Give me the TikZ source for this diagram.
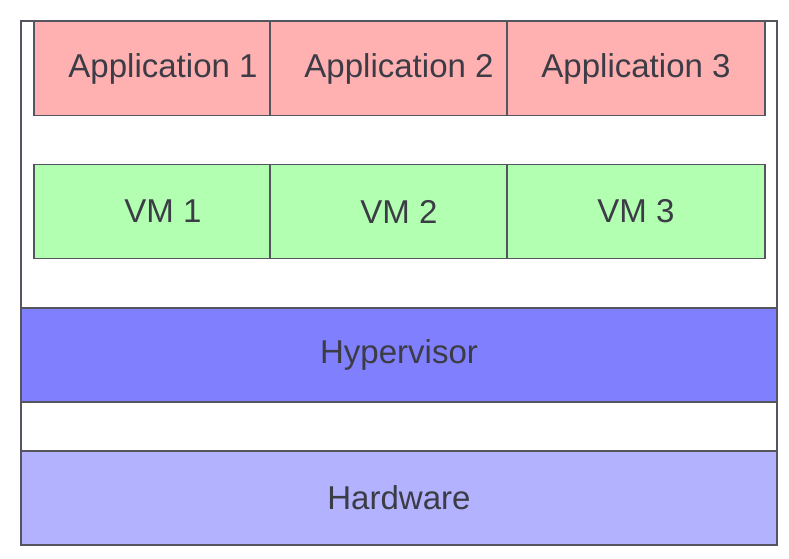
\documentclass[tikz,border=0pt]{standalone}
\usepackage{fontspec}
\setmainfont{Liberation Sans}
\usepackage{tikz}
\usetikzlibrary{positioning}
\definecolor{appred}{RGB}{255, 176, 176}
\definecolor{vmgreen}{RGB}{178, 255, 178}
\definecolor{hypblue}{RGB}{128, 128, 255}
\definecolor{hwblue}{RGB}{178, 178, 255}
\definecolor{edgegray}{RGB}{85, 85, 95}
\definecolor{textgray}{RGB}{60, 60, 70}

\tikzset{
    layerbox/.style={draw=edgegray, line width=0.6pt, minimum height=1.88cm,
        inner sep=0pt, text=textgray, font=\fontsize{18.8}{22}\selectfont},
    slotbox/.style={layerbox, minimum width=5.16cm},
    widebox/.style={layerbox, minimum width=15.12cm}
}

\begin{document}
\begin{tikzpicture}
        \useasboundingbox (0,0) rectangle (15.78,11.16);
        % Outer frame
        \draw[edgegray, line width=0.9pt] (0.42,0.26) rectangle (15.54,10.74);
        
        % Applications
        \node[slotbox, fill=appred] (app1) at (3.26,9.79) {Application 1};
        \node[slotbox, fill=appred] (app2) at (7.98,9.79) {Application 2};
        \node[slotbox, fill=appred] (app3) at (12.72,9.79) {Application 3};
        
        % Virtual machines
        \node[slotbox, fill=vmgreen] (vm1) at (3.26,6.93) {VM 1};
        \node[slotbox, fill=vmgreen] (vm2) at (7.98,6.93) {VM 2};
        \node[slotbox, fill=vmgreen] (vm3) at (12.72,6.93) {VM 3};
        
        % Hypervisor and hardware
        \node[widebox, fill=hypblue] (hyp) at (7.98,4.06) {Hypervisor};
        \node[widebox, fill=hwblue] (hw) at (7.98,1.20) {Hardware};
    \end{tikzpicture}
\end{document}
